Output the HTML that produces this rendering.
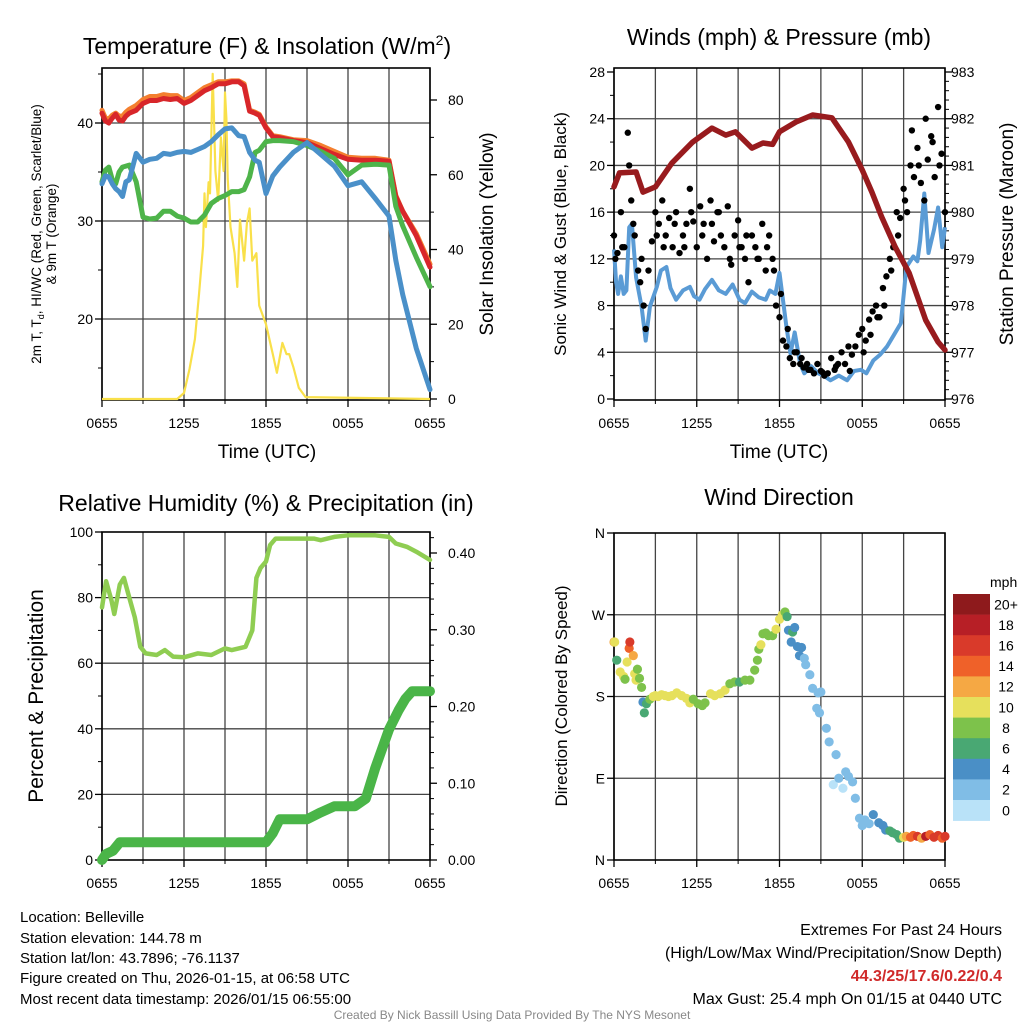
<!DOCTYPE html>
<html><head><meta charset="utf-8">
<style>
html,body{margin:0;padding:0;background:#fff;}
svg{display:block;font-family:"Liberation Sans",Arial,sans-serif;}
</style></head>
<body>
<svg id="chart" width="1024" height="1024" viewBox="0 0 1024 1024" xmlns="http://www.w3.org/2000/svg">
<rect x="0" y="0" width="1024" height="1024" fill="#fff"/>
<g id="layer"></g>
<text x="267" y="54" font-size="23" text-anchor="middle">Temperature (F) &amp; Insolation (W/m<tspan font-size="14" dy="-9">2</tspan><tspan dy="9">)</tspan></text>
<text x="779" y="45" font-size="23" text-anchor="middle">Winds (mph) &amp; Pressure (mb)</text>
<text x="266" y="511" font-size="23" text-anchor="middle">Relative Humidity (%) &amp; Precipitation (in)</text>
<text x="779" y="505" font-size="23" text-anchor="middle">Wind Direction</text>
<text x="267" y="458" font-size="19" text-anchor="middle">Time (UTC)</text>
<text x="779" y="458" font-size="19" text-anchor="middle">Time (UTC)</text>
<g font-size="13.5" text-anchor="middle">
<text transform="translate(41,234) rotate(-90)">2m T, T<tspan font-size="9" dy="3">d</tspan><tspan dy="-3">, HI/WC (Red, Green, Scarlet/Blue)</tspan></text>
<text transform="translate(56,234) rotate(-90)">&amp; 9m T (Orange)</text>
</g>
<text transform="translate(493,234) rotate(-90)" font-size="19" text-anchor="middle">Solar Insolation (Yellow)</text>
<text transform="translate(566,234) rotate(-90)" font-size="17" text-anchor="middle">Sonic Wind &amp; Gust (Blue, Black)</text>
<text transform="translate(1013,234) rotate(-90)" font-size="19" text-anchor="middle">Station Pressure (Maroon)</text>
<text transform="translate(43,696) rotate(-90)" font-size="21" text-anchor="middle">Percent &amp; Precipitation</text>
<text transform="translate(567,696) rotate(-90)" font-size="17" text-anchor="middle">Direction (Colored By Speed)</text>
<text x="990" y="587" font-size="14">mph</text>
<g font-size="15">
<text x="20" y="922">Location: Belleville</text>
<text x="20" y="943">Station elevation: 144.78 m</text>
<text x="20" y="963">Station lat/lon: 43.7896; -76.1137</text>
<text x="20" y="983">Figure created on Thu, 2026-01-15, at 06:58 UTC</text>
<text x="20" y="1004">Most recent data timestamp: 2026/01/15 06:55:00</text>
</g>
<g font-size="16" text-anchor="end">
<text x="1002" y="935">Extremes For Past 24 Hours</text>
<text x="1002" y="958">(High/Low/Max Wind/Precipitation/Snow Depth)</text>
<text x="1002" y="981" fill="#d02a2a" font-weight="bold">44.3/25/17.6/0.22/0.4</text>
<text x="1002" y="1004">Max Gust: 25.4 mph On 01/15 at 0440 UTC</text>
</g>
<text x="512" y="1019" font-size="12" fill="#888" text-anchor="middle">Created By Nick Bassill Using Data Provided By The NYS Mesonet</text>
</svg>
<script>
const timeTickLabels = ["0655","1255","1855","0055","0655"];
const tempTickLabels = ["20","30","40"];
const solarTickLabels = ["0","20","40","60","80"];
const windTickLabels = ["0","4","8","12","16","20","24","28"];
const pressTickLabels = ["976","977","978","979","980","981","982","983"];
const rhTickLabels = ["0","20","40","60","80","100"];
const precipTickLabels = ["0.00","0.10","0.20","0.30","0.40"];
const dirTickLabels = ["N","E","S","W","N"];
const speedBinLabels = ["20+","18","16","14","12","10","8","6","4","2","0"];
const speedBinColors = ["#8e1a1c","#b71f26","#d93a2a","#ef6129","#f5a844","#e6e05c","#7dc24b","#49a873","#4a8fc6","#80bde6","#b9e2f8"];

const tempHours = [0,0.25,0.5,0.75,1,1.25,1.5,1.75,2,2.5,3,3.5,4,4.5,5,5.5,6,6.5,7,7.5,8,8.5,9,9.5,10,10.4,10.8,11.2,11.5,12,12.5,13,14,15,16,17,18,19,20,21,21.5,22,23,24];
const redTemp =   [41,40.2,40,40.5,40.9,40.3,40.2,40.7,41,41.3,42,42.3,42.3,42.5,42.4,42.5,42,42.3,42.8,43.3,43.6,44,44,44.2,44.2,43.8,41.2,41,40.8,39.5,38.6,38.5,38.2,38,37.4,36.8,36.3,36.2,36.2,36.1,32.5,31,28.5,25.3];
const orangeTemp =[41.3,40.5,40.4,40.8,41,40.7,40.7,41.1,41.4,41.8,42.4,42.7,42.7,42.9,42.8,42.8,42.3,42.6,43.1,43.6,43.9,44.2,44.2,44.3,44.3,44,41.3,41.1,40.9,39.6,38.7,38.6,38.3,38.2,37.7,37.1,36.5,36.4,36.4,36.2,32.6,31,28.7,25.6];
const greenTemp = [34,35.2,35.5,34.2,33.8,35,35.5,35.6,35.7,34,30.4,30.2,30.3,31,31,30.5,30.3,29.9,29.9,30.6,31.8,32.3,32.6,33,33,33.2,34.5,37,37.2,38.1,38.2,38.2,38.1,37.7,37.1,36.4,34.7,35.7,35.8,35.7,31.5,29.5,26.3,23.3];
const blueTemp =  [33.8,34.6,34.5,33.8,33.3,33,32.5,34,34.2,36.9,36,36.3,36.4,36.9,36.8,37,37.1,37,37.3,37.6,38.1,38.8,39.4,39.5,38.7,38.6,37,36.2,36,32.8,34.6,35.5,37,38,36.8,35.6,33.6,34,32.3,30.5,26,22.5,17,12.8];

const solarHours = [0,5.5,6.0,6.4,6.8,7.1,7.4,7.5,7.6,7.8,7.9,8.1,8.3,8.5,8.7,8.9,9.0,9.1,9.2,9.4,9.7,9.9,10.1,10.4,10.6,10.8,11.0,11.3,11.5,12.0,12.5,12.8,13.2,13.5,13.7,14.0,14.4,14.9,24];
const solarValues = [0,0,1.6,8,16,28,41,55,46,58,55,87,61,53,70,61,82,75,59,46,39,30,48,37,47,51,37,39,25,20,12,7,15,12,12,8.6,3,0.5,0];

const presHours = [0,0.4,1.6,2.1,3,4.2,5.7,7.1,8.1,8.8,10,10.8,11.5,12,13.2,14.4,15.8,17,18,18.7,19.4,20.4,21.4,22.6,23.5,24];
const pressure =  [980.54,980.84,980.86,980.43,980.54,981.05,981.5,981.8,981.65,981.72,981.37,981.48,981.45,981.72,981.93,982.08,982.02,981.5,980.9,980.43,979.9,979.25,978.7,977.69,977.22,977.05];
const sonicHours = [0,0.15,0.3,0.5,0.7,0.9,1.1,1.3,1.6,2,2.3,2.6,3.1,3.4,3.8,4.1,4.5,5,5.5,5.8,6.2,6.6,7.1,7.6,8.1,8.6,9.1,9.5,10,10.5,11,11.3,11.7,12,12.5,12.8,13.1,13.5,13.8,14.3,14.8,15.2,15.7,16.3,16.9,17.4,17.9,18.3,18.8,19.3,19.8,20.3,20.8,21.2,21.7,22,22.2,22.5,22.8,23.2,23.5,23.8,24];
const sonicWind = [12.8,10,9,10.5,9,9.3,14.7,15,10.4,7.9,5,7.9,9.6,11,11.3,9.5,8.5,9.3,9.6,8.8,8.5,9.4,10.2,9.3,9,9.8,8.5,8.2,9.2,8.7,8.5,9.3,9,10.8,6.2,3.9,5.7,3,2.2,2.8,2.2,2,1.6,2,1.6,2.4,2.5,2.2,3.3,3.8,4.5,5.5,6.5,11.3,12.2,11.8,13.6,17.6,12.5,14.5,16.4,13,14.7];
const gustHours = [0,0.25,0.5,0.75,1,1.1,1.25,1.5,1.75,2,2.15,2.3,2.5,2.75,3,3.25,3.5,3.75,4,4.25,4.5,4.75,5,5.25,5.5,5.75,6,6.25,6.5,6.75,7,7.25,7.5,7.75,8,8.25,8.5,8.75,9,9.25,9.5,9.75,10,10.25,10.5,10.75,11,11.25,11.5,11.75,12,12.25,12.5,12.75,13,13.25,13.5,13.75,14,14.25,14.5,14.75,15,15.25,15.5,15.75,16,16.25,16.5,16.75,17,17.25,17.5,17.75,18,18.25,18.5,18.75,19,19.25,19.5,19.75,20,20.25,20.5,20.75,21,21.25,21.5,21.75,22,22.25,22.5,22.75,23,23.25,23.5,23.75,24];
const gustValues = [14,12.5,16,13,22.8,20,17,14,11,12,8,6,11,13.5,16,15,17,14,15.5,13,16,12.5,14,15,18,15.2,13,16.5,15,12,17,13.5,16,14,13,16.5,11.5,14,15.3,13,12,10,14,13,12,15,11,14,12,8,7,5,4.5,3.5,3,4,3,2.7,3,2.5,2.2,3,2.4,2,2.2,3.5,2.5,3,4,3,4.5,3.8,4.5,5.5,6,5,6.8,7.5,8,7,9.5,10.5,12,13,16,15.5,18,16,20,19,21.5,18.5,17,20.5,22.5,19,25,21,16];
const gustHours2 = [0.1,0.6,1.4,1.9,3.1,3.6,4.4,5.1,5.6,6.4,7.1,7.6,8.4,9.1,9.6,10.4,11.1,11.6,12.1,12.6,13.1,13.6,14.1,15.1,16.1,17.1,18.1,18.6,19.1,19.6,20.1,20.6,21.1,21.6,22.1,22.6,23.1,23.6];
const gustValues2 = [12,13,15,10,14,13,15,13,16,14,15,16,12,13,14,12,13,11,9,6,4,3.5,2.5,2.3,2.8,2.4,4,5.5,7,8,11,14,17,23,20,24,22,20];

const rhHours = [0,0.3,0.7,0.9,1.3,1.6,2,2.4,2.8,3.2,4,4.6,5.2,6,7,8,9,9.5,10.5,11,11.3,11.6,12,12.3,12.7,13.5,14.5,15.5,16,17,18,19,20,21,21.5,22.3,23,24];
const rhValues = [77,85,79,75,84,86,80,74,65,63,62.5,64,62,61.8,63,62.5,64.5,64,65,70,86,89,91,96,98,98,98,98,97.5,98.5,99,99,99,98.5,96.5,95.5,94,91.5];
const precipHours = [0,0.3,0.8,1.3,12,12.5,13,15,16,17,18.5,19.3,20,21,21.7,22.2,22.7,24];
const precipValues = [0,0.008,0.012,0.023,0.023,0.035,0.053,0.053,0.062,0.07,0.07,0.08,0.12,0.17,0.195,0.21,0.22,0.22];

const dirHours = [0,0.05,0.2,0.45,0.7,0.8,0.95,1.1,1.15,1.4,1.5,1.6,1.7,1.85,2.0,2.1,2.2,2.35,2.6,2.85,3.0,3.2,3.45,3.7,3.95,4.2,4.55,4.9,5.25,5.5,5.75,6.1,6.4,6.6,7.0,7.3,7.7,8.05,8.4,8.75,9.1,9.5,9.85,10.2,10.4,10.5,10.65,10.8,11.0,11.2,11.5,11.75,12.0,12.2,12.4,12.55,12.65,12.85,12.95,13.1,13.3,13.45,13.6,13.8,13.9,14.2,14.4,14.7,14.8,14.9,15.0,15.4,15.6,15.9,16.1,16.3,16.6,16.8,17.0,17.3,17.5,17.8,18.0,18.2,18.5,18.8,19.2,19.5,19.7,20.0,20.2,20.5,20.7,21.0,21.2,21.5,21.7,22.0,22.3,22.6,22.9,23.2,23.5,23.8,24];
const dirValues = [240,240,220,207,202,199,218,233,240,225,205,198,210,200,190,174,162,172,177,180,181,180,182,181,180,181,184,181,178,173,177,172,170,173,183,181,183,187,194,196,196,198,198,209,220,232,237,249,250,247,247,254,265,270,273,268,253,240,251,256,235,225,234,222,215,204,189,167,184,162,185,145,130,83,116,90,79,97,92,86,68,46,38,44,40,50,41,38,33,32,30,28,24,25,26,25,27,26,24,26,28,25,27,24,26];
const speedValues = [12,10,7,10,10,8,10,14,16,12,10,10,8,8,8,4,6,6,8,10,10,10,10,10,10,10,10,10,10,10,8,8,8,8,10,10,10,10,8,8,6,8,8,8,8,8,10,8,8,8,8,10,10,10,8,6,4,4,6,4,4,4,4,3,3,3,2,2,2,2,2,2,2,1,2,2,1,2,2,2,2,2,3,2,3,4,4,5,5,6,6,7,7,10,12,14,15,16,13,18,14,17,16,15,16];

const NS = "http://www.w3.org/2000/svg";
const layer = document.getElementById('layer');
function mk(tag, attrs, parent){const e=document.createElementNS(NS,tag);for(const k in attrs)e.setAttribute(k,attrs[k]);(parent||layer).appendChild(e);return e;}
function lin(d0,d1,r0,r1){return v=>r0+(v-d0)/(d1-d0)*(r1-r0);}
function pathFrom(xs,ys,fx,fy){return xs.map((h,i)=>(i?'L':'M')+fx(h).toFixed(1)+' '+fy(ys[i]).toFixed(1)).join(' ');}

function frame(name,x0,x1,y0,y1,fx,hGridVals,fyG,leftTicks,fyL,leftMinor,rightTicks,fyR,rightMinor,rightX){
  const g=mk('g',{});
  
  
  for(let h=0;h<=24;h+=3){const x=fx(h);mk('line',{x1:x,x2:x,y1:y0,y2:y1,stroke:'#444','stroke-width':1.3},g);}
  hGridVals.forEach(v=>{const y=fyG(v);mk('line',{x1:x0,x2:x1,y1:y,y2:y,stroke:'#444','stroke-width':1.3},g);});
  mk('rect',{x:x0,y:y0,width:x1-x0,height:y1-y0,fill:'none',stroke:'#000','stroke-width':1.6},g);
  timeTickLabels.forEach((lab,i)=>{const x=fx(i*6);mk('line',{x1:x,x2:x,y1:y1,y2:y1+7,stroke:'#000','stroke-width':1.3},g);
    const t=mk('text',{x:x,y:y1+28,'font-size':14,'text-anchor':'middle'},g);t.textContent=lab;});
  for(let h=3;h<24;h+=6){const x=fx(h);mk('line',{x1:x,x2:x,y1:y1,y2:y1+4,stroke:'#000','stroke-width':1},g);}
  leftTicks.forEach(([v,lab])=>{const y=fyL(v);mk('line',{x1:x0-7,x2:x0,y1:y,y2:y,stroke:'#000','stroke-width':1.3},g);
    const t=mk('text',{x:x0-9,y:y+5,'font-size':14,'text-anchor':'end'},g);t.textContent=lab;});
  leftMinor.forEach(v=>{const y=fyL(v);mk('line',{x1:x0-4,x2:x0,y1:y,y2:y,stroke:'#000','stroke-width':1},g);});
  rightTicks.forEach(([v,lab])=>{const y=fyR(v);mk('line',{x1:x1,x2:x1+7,y1:y,y2:y,stroke:'#000','stroke-width':1.3},g);
    const t=mk('text',{x:rightX,y:y+5,'font-size':14,'text-anchor':'start'},g);t.textContent=lab;});
  rightMinor.forEach(v=>{const y=fyR(v);mk('line',{x1:x1,x2:x1+4,y1:y,y2:y,stroke:'#000','stroke-width':1},g);});
  return g;
}

(function(){
  const x0=102,x1=430,y0=68,y1=400;
  const fx=lin(0,24,x0,x1);
  const fy=lin(40,30,123,221);
  const fs=lin(0,80,399,100);
  frame('temperature-panel',x0,x1,y0,y1,fx,[20,30,40],fy,
    tempTickLabels.map(l=>[+l,l]),fy,[15,25,35,45],
    solarTickLabels.map(l=>[+l,l]),fs,[10,30,50,70],448);
  const s=mk('path',{d:pathFrom(solarHours,solarValues,fx,fs),fill:'none',stroke:'#f9e04a','stroke-width':2.2,'stroke-linejoin':'round'});
  
  
  const series=[['orange-9m-temp-line',orangeTemp,'#f47f2f'],['red-2m-temp-line',redTemp,'#d8262a'],['green-dewpoint-line',greenTemp,'#4eb44a'],['blue-windchill-line',blueTemp,'#4a90c9']];
  series.forEach(([n,vals,c])=>{
    const p=mk('path',{d:pathFrom(tempHours,vals,fx,fy),fill:'none',stroke:c,'stroke-width':5,'stroke-linejoin':'round','stroke-linecap':'round'});
    
    
  });
})();

(function(){
  const x0=614,x1=945,y0=68,y1=400;
  const fx=lin(0,24,x0,x1);
  const fw=lin(0,28,399,72);
  const fp=lin(976,983,399,72);
  frame('winds-panel',x0,x1,y0,y1,fx,[4,8,12,16,20,24],fw,
    windTickLabels.map(l=>[+l,l]),fw,[2,6,10,14,18,22,26],
    pressTickLabels.map(l=>[+l,l]),fp,[976.2,976.4,976.6,976.8,977.2,977.4,977.6,977.8,978.2,978.4,978.6,978.8,979.2,979.4,979.6,979.8,980.2,980.4,980.6,980.8,981.2,981.4,981.6,981.8,982.2,982.4,982.6,982.8],951);
  const b=mk('path',{d:pathFrom(sonicHours,sonicWind,fx,fw),fill:'none',stroke:'#5a9bd5','stroke-width':4,'stroke-linejoin':'round'});
  
  
  const dots=(hs,vs)=>hs.forEach((h,i)=>{
    const c=mk('circle',{cx:fx(h),cy:fw(vs[i]),r:3.2,fill:'#000'});
    
    
  });
  dots(gustHours,gustValues);
  dots(gustHours2,gustValues2);
  const p=mk('path',{d:pathFrom(presHours,pressure,fx,fp),fill:'none',stroke:'#981b1e','stroke-width':5.5,'stroke-linejoin':'round','stroke-linecap':'round'});
  
  
})();

(function(){
  const x0=102,x1=430,y0=532,y1=860;
  const fx=lin(0,24,x0,x1);
  const fr=lin(0,100,860,532);
  const fpr=lin(0,0.4,860,553);
  frame('humidity-panel',x0,x1,y0,y1,fx,[20,40,60,80],fr,
    rhTickLabels.map(l=>[+l,l]),fr,[10,30,50,70,90],
    precipTickLabels.map(l=>[+l,l]),fpr,[0.02,0.04,0.06,0.08,0.12,0.14,0.16,0.18,0.22,0.24,0.26,0.28,0.32,0.34,0.36,0.38,0.42],448);
  const r=mk('path',{d:pathFrom(rhHours,rhValues,fx,fr),fill:'none',stroke:'#8fcd52','stroke-width':4.5,'stroke-linejoin':'round','stroke-linecap':'round'});
  
  
  const p=mk('path',{d:pathFrom(precipHours,precipValues,fx,fpr),fill:'none',stroke:'#4ab548','stroke-width':10,'stroke-linejoin':'round','stroke-linecap':'round'});
  
  
})();

(function(){
  const x0=614,x1=945,y0=533,y1=860;
  const fx=lin(0,24,x0,x1);
  const fd=lin(0,360,860,533);
  frame('wind-direction-panel',x0,x1,y0,y1,fx,[90,180,270],fd,
    dirTickLabels.map((l,i)=>[i*90,l]),fd,[],[],fd,[],0);
  function col(s){let k=Math.min(10,Math.floor(s/2));return speedBinColors[10-k];}
  dirHours.forEach((h,i)=>{
    const c=mk('circle',{cx:fx(h),cy:fd(dirValues[i]),r:4.6,fill:col(speedValues[i])});
    
    
  });
  const cb=mk('g',{});
  
  
  const top=594,h=20.6;
  speedBinColors.forEach((c,i)=>{mk('rect',{x:953,y:top+i*h,width:37,height:h+0.3,fill:c},cb);
    const t=mk('text',{x:1006,y:top+i*h+h/2+5,'font-size':14,'text-anchor':'middle'},cb);t.textContent=speedBinLabels[i];});
})();
</script>
</body></html>
